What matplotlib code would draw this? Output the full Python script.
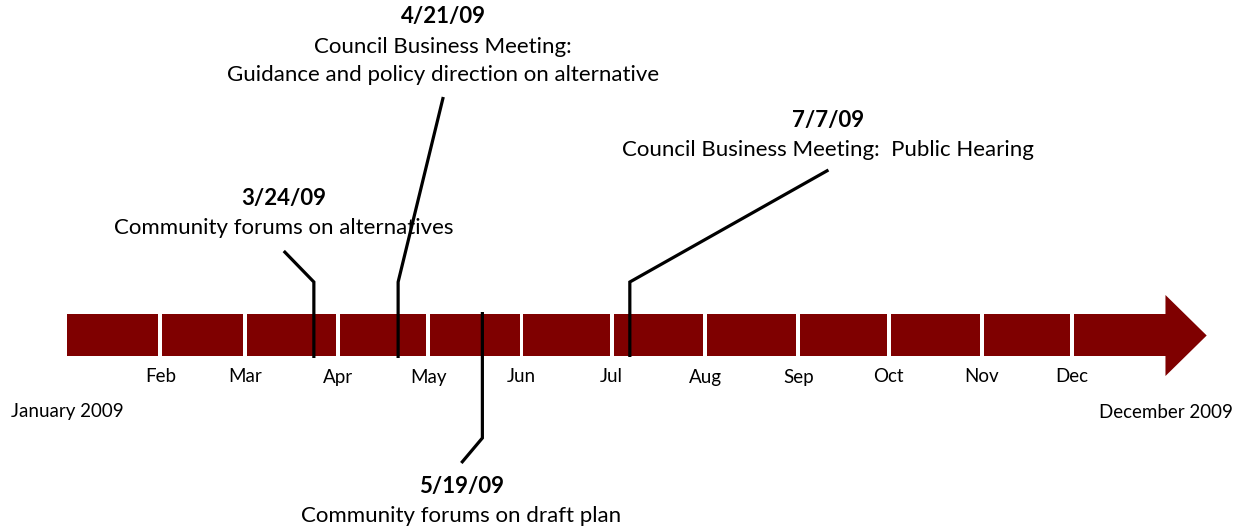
import matplotlib
matplotlib.use("Agg")
import matplotlib.pyplot as plt
from matplotlib.patches import Rectangle, Polygon

plt.rcParams['font.family'] = ['Lato', 'DejaVu Sans']

# month starts as day of year (2009)
months = ["Jan", "Feb", "Mar", "Apr", "May", "Jun", "Jul", "Aug", "Sep", "Oct", "Nov", "Dec"]
month_start = [0, 31, 59, 90, 120, 151, 181, 212, 243, 273, 304, 334]
year_end = 365

# events: day of year, date text, description lines
event_day = [82, 110, 138, 187]
event_date = ["3/24/09", "4/21/09", "5/19/09", "7/7/09"]
event_text = [["Community forums on alternatives"],
              ["Council Business Meeting:", "Guidance and policy direction on alternative"],
              ["Community forums on draft plan"],
              ["Council Business Meeting:  Public Hearing"]]
# label placement: day offset of label centre, y of leader end, y of elbow, y of date line
label_dx = [-10, 15, -7, 66]
leader_end = [251, 97, 463, 170]
elbow_y = [282, 282, 438, 282]
date_y = [198, 17, 486, 120]
bar_end = [358, 358, 312, 357]

red = "#7f0000"
fig = plt.figure(figsize=(12.41, 5.29), dpi=100)
ax = fig.add_axes([0, 0, 1, 1])
ax.set_xlim(-22.3, 390.1)
ax.set_ylim(529, 0)
ax.axis("off")

band_top, band_bot = 314, 356
gap = 1.3
for i, s in enumerate(month_start):
    e = month_start[i + 1] if i + 1 < len(month_start) else year_end + 1
    left = s + (gap / 2 if i > 0 else 0)
    right = e - gap / 2 if i + 1 < len(month_start) else e
    ax.add_patch(Rectangle((left, band_top), right - left, band_bot - band_top,
                           facecolor=red, edgecolor="none"))
    if i > 0:
        ax.text(s, 377, months[i], ha="center", va="center", fontsize=13.5)
ax.add_patch(Polygon([(year_end, 295), (year_end + 13.7, 335.5), (year_end, 376)],
                     closed=True, facecolor=red, edgecolor="none"))

ax.text(0, 412, "January 2009", ha="center", va="center", fontsize=13.5)
ax.text(year_end, 412, "December 2009", ha="center", va="center", fontsize=13.5)

for d, dt, lines, dx, le, ey, ty, be in zip(event_day, event_date, event_text,
                                            label_dx, leader_end, elbow_y, date_y, bar_end):
    ax.plot([d + dx, d, d], [le, ey, be], color="black", lw=2.3,
            solid_joinstyle="miter", solid_capstyle="butt")
    ax.text(d + dx, ty, dt, ha="center", va="center", fontsize=16, fontweight="bold")
    for k, line in enumerate(lines):
        ax.text(d + dx, ty + 30 + 28 * k, line, ha="center", va="center", fontsize=16)

fig.savefig("out.png", dpi=100)
